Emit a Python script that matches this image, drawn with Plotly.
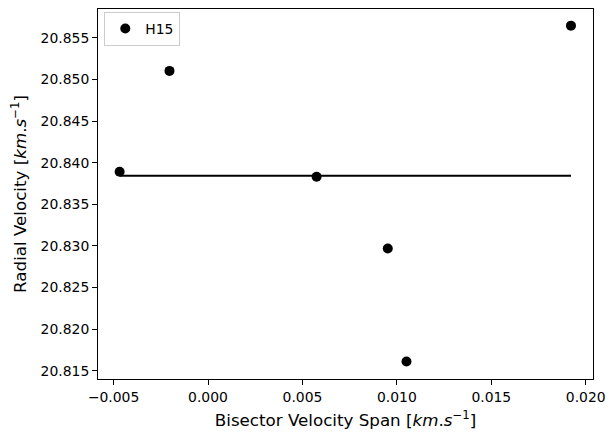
import numpy as np
import plotly.graph_objects as go

# Data
bis_span = [-0.00468, -0.00204, 0.00575, 0.00952, 0.01051, 0.01922]
rad_vel = [20.83892, 20.85104, 20.83832, 20.82968, 20.81611, 20.85648]
series_name = "H15"

x_tick_vals = [-0.005, 0.000, 0.005, 0.010, 0.015, 0.020]
y_tick_vals = [20.815, 20.820, 20.825, 20.830, 20.835, 20.840, 20.845, 20.850, 20.855]

mean_rv = float(np.mean(rad_vel))
line_x = [min(bis_span), max(bis_span)]
line_y = [mean_rv, mean_rv]

fig = go.Figure()
fig.add_trace(go.Scatter(
    x=line_x, y=line_y, mode="lines",
    line=dict(color="black", width=2), showlegend=False, hoverinfo="skip"))
fig.add_trace(go.Scatter(
    x=bis_span, y=rad_vel, mode="markers", name=series_name,
    marker=dict(color="black", size=10)))

font_family = "DejaVu Sans"
axis_common = dict(
    showgrid=False, zeroline=False, showline=True, mirror=True,
    linecolor="black", linewidth=1, ticks="outside", ticklen=5,
    tickwidth=1, tickcolor="black",
    tickfont=dict(family=font_family, size=13.9, color="black"),
)

# page body has an 8px margin, so the figure is sized to fit the 615x441 window
fig.update_layout(
    width=599, height=425,
    margin=dict(l=90, r=14, t=1, b=54),
    paper_bgcolor="white", plot_bgcolor="white",
    font=dict(family=font_family, color="black"),
    xaxis=dict(
        range=[-0.005825, 0.020386], tickvals=x_tick_vals, tickformat=".3f",
        title=dict(text="Bisector Velocity Span [<i>km</i>.<i>s</i><sup>−1</sup>]",
                   font=dict(family=font_family, size=16.7), standoff=10),
        **axis_common),
    yaxis=dict(
        range=[20.81400, 20.85848], tickvals=y_tick_vals, tickformat=".3f",
        title=dict(text="Radial Velocity [<i>km</i>.<i>s</i><sup>−1</sup>]",
                   font=dict(family=font_family, size=16.7), standoff=10),
        **axis_common),
    legend=dict(
        x=0.0127, y=0.992, xanchor="left", yanchor="top",
        bordercolor="#cccccc", borderwidth=1, bgcolor="rgba(255,255,255,0.8)",
        font=dict(family=font_family, size=13.9, color="black")),
)

fig.write_html("out.html")
